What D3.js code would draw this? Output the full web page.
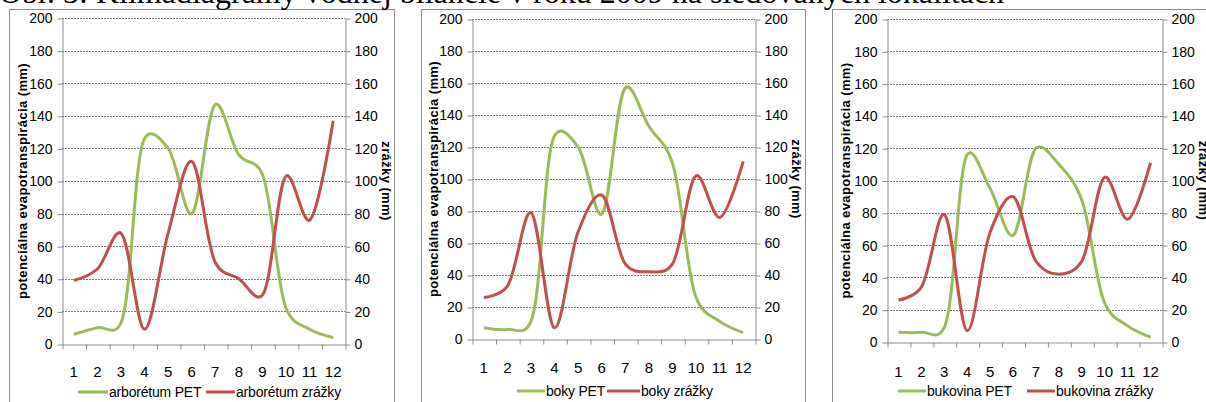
<!DOCTYPE html>
<html>
<head>
<meta charset="utf-8">
<script src="https://cdn.jsdelivr.net/npm/d3@7"></script>
<style>
  body { margin: 0; background: #fff; }
  svg { display: block; }
</style>
</head>
<body>
<div id="chart"></div>
<script>
// data (mm per month, 2009)
var months = [1, 2, 3, 4, 5, 6, 7, 8, 9, 10, 11, 12];
var yTicks = [0, 20, 40, 60, 80, 100, 120, 140, 160, 180, 200];

var arboretumPet     = [6, 10, 13, 126, 120, 80, 147, 116, 104, 22, 9, 4];
var arboretumZrazky  = [39, 46, 68, 9, 68, 112, 50, 40, 30, 103, 76, 137];
var bokyPet          = [7, 6, 11, 127, 120, 78, 157, 133, 110, 26, 11, 4];
var bokyZrazky       = [26, 33, 79, 7, 67, 90, 47, 42, 47, 102, 76, 111];
var bukovinaPet      = [6, 6, 9, 116, 95, 66, 120, 110, 88, 24, 10, 3];
var bukovinaZrazky   = [26, 34, 79, 7, 68, 90, 50, 42, 50, 102, 76, 111];

var title = 'Obr. 3: Klimadiagramy vodnej bilancie v roku 2009 na sledovaných lokalitách';
var leftLabel = 'potenciálna evapotranspirácia (mm)';
var rightLabel = 'zrážky (mm)';

var colors = { pet: '#9bbb59', zrazky: '#c0504d' };

// one entry per small chart; box = frame, plot = inner plot area
var panels = [
    {
        names: ['arborétum PET', 'arborétum zrážky'],
        pet: arboretumPet, zrazky: arboretumZrazky,
        box: { x: 9.5, y: 9.5, w: 385 },
        plot: { left: 62, right: 345, top: 18, bottom: 344 },
        leftLabelX: 22, rightLabelX: 387, xLabelY: 377, legendY: 392,
        legend: [78, 108, 206, 235]
    },
    {
        names: ['boky PET', 'boky zrážky'],
        pet: bokyPet, zrazky: bokyZrazky,
        box: { x: 421.5, y: 9.5, w: 384 },
        plot: { left: 472, right: 755, top: 19, bottom: 339 },
        leftLabelX: 433, rightLabelX: 797, xLabelY: 373, legendY: 391,
        legend: [517, 545, 607, 640]
    },
    {
        names: ['bukovina PET', 'bukovina zrážky'],
        pet: bukovinaPet, zrazky: bukovinaZrazky,
        box: { x: 832.5, y: 9.5, w: 400 },
        plot: { left: 887, right: 1162, top: 19, bottom: 342 },
        leftLabelX: 845, rightLabelX: 1204, xLabelY: 377, legendY: 391,
        legend: [898, 926, 1027, 1055]
    }
];

var width = 1206, height = 402;
var tickFont = '"Liberation Sans Narrow", "Liberation Sans", Arial, sans-serif';
var labelFont = '"Liberation Sans", Arial, sans-serif';

var svg = d3.select('#chart').append('svg')
    .attr('width', width)
    .attr('height', height);

svg.append('rect').attr('width', width).attr('height', height).attr('fill', '#fff');

panels.forEach(function(p) { drawPanel(svg, p); });

// caption, mostly cut off by the top edge
svg.append('text')
    .attr('x', -1)
    .attr('y', 3)
    .attr('font-family', '"Liberation Serif", "Times New Roman", serif')
    .attr('font-size', 32)
    .attr('fill', '#000')
    .text(title);

function drawPanel(svg, p) {
    var g = svg.append('g');
    var pl = p.plot;

    g.append('rect')
        .attr('x', p.box.x).attr('y', p.box.y)
        .attr('width', p.box.w).attr('height', height)
        .attr('fill', '#fff')
        .attr('stroke', '#8c8c8c')
        .attr('stroke-width', 1);

    var x = d3.scaleBand().domain(months).range([pl.left, pl.right]);
    var xEdge = d3.scaleLinear().domain([0, months.length]).range([pl.left, pl.right]);
    var y = d3.scaleLinear().domain([0, 200]).range([pl.bottom, pl.top]);

    // grid
    g.append('g').selectAll('line')
        .data(yTicks.filter(function(d) { return d > 0; }))
        .enter().append('line')
        .attr('x1', pl.left).attr('x2', pl.right)
        .attr('y1', function(d) { return Math.round(y(d)) + 0.5; })
        .attr('y2', function(d) { return Math.round(y(d)) + 0.5; })
        .attr('stroke', '#7a7a7a')
        .attr('stroke-width', 1)
        .attr('stroke-dasharray', '2,1');

    // left axis
    var leftAxis = g.append('g')
        .attr('transform', 'translate(' + (pl.left + 0.5) + ',0.5)')
        .call(d3.axisLeft(y).tickValues(yTicks).tickSize(5).tickSizeOuter(0).tickPadding(5));
    // right axis
    var rightAxis = g.append('g')
        .attr('transform', 'translate(' + (pl.right + 0.5) + ',0.5)')
        .call(d3.axisRight(y).tickValues(yTicks).tickSize(5).tickSizeOuter(0).tickPadding(4));

    [leftAxis, rightAxis].forEach(function(ax) {
        ax.select('.domain').attr('stroke', '#8c8c8c');
        ax.selectAll('.tick line').attr('stroke', '#8c8c8c');
        ax.selectAll('.tick text')
            .attr('font-family', tickFont)
            .attr('font-size', 14)
            .attr('fill', '#000');
    });

    // bottom axis: ticks between months, labels in the middle
    var bottomAxis = g.append('g')
        .attr('transform', 'translate(0,' + (pl.bottom + 0.5) + ')')
        .call(d3.axisBottom(xEdge).tickValues(d3.range(months.length + 1))
            .tickSize(5).tickSizeOuter(0).tickFormat(''));
    bottomAxis.select('.domain').attr('stroke', '#8c8c8c');
    bottomAxis.selectAll('.tick line').attr('stroke', '#8c8c8c');
    bottomAxis.selectAll('.tick line').attr('transform', 'translate(0.5,0)');

    g.append('g').selectAll('text')
        .data(months)
        .enter().append('text')
        .attr('x', function(d) { return x(d) + x.bandwidth() / 2; })
        .attr('y', p.xLabelY)
        .attr('text-anchor', 'middle')
        .attr('font-family', tickFont)
        .attr('font-size', 15)
        .text(function(d) { return d; });

    // axis titles
    g.append('text')
        .attr('transform', 'translate(' + p.leftLabelX + ',' + ((pl.top + pl.bottom) / 2) + ') rotate(-90)')
        .attr('text-anchor', 'middle')
        .attr('dy', '0.35em')
        .attr('font-family', labelFont)
        .attr('font-size', 13)
        .attr('font-weight', 'bold')
        .attr('letter-spacing', 0.4)
        .text(leftLabel);
    g.append('text')
        .attr('transform', 'translate(' + p.rightLabelX + ',' + ((pl.top + pl.bottom) / 2) + ') rotate(90)')
        .attr('text-anchor', 'middle')
        .attr('dy', '0.35em')
        .attr('font-family', labelFont)
        .attr('font-size', 13)
        .attr('font-weight', 'bold')
        .attr('letter-spacing', 0.4)
        .text(rightLabel);

    // smoothed lines, like Excel
    var line = d3.line()
        .x(function(d, i) { return x(months[i]) + x.bandwidth() / 2; })
        .y(function(d) { return y(d); })
        .curve(d3.curveCatmullRom.alpha(0.25));

    g.append('path').datum(p.pet)
        .attr('d', line)
        .attr('fill', 'none')
        .attr('stroke', colors.pet)
        .attr('stroke-width', 3)
        .attr('stroke-linejoin', 'round');
    g.append('path').datum(p.zrazky)
        .attr('d', line)
        .attr('fill', 'none')
        .attr('stroke', colors.zrazky)
        .attr('stroke-width', 3)
        .attr('stroke-linejoin', 'round');

    // legend
    var lg = p.legend;
    [[colors.pet, p.names[0], lg[0], lg[1]], [colors.zrazky, p.names[1], lg[2], lg[3]]].forEach(function(item) {
        g.append('line')
            .attr('x1', item[2]).attr('x2', item[3])
            .attr('y1', p.legendY).attr('y2', p.legendY)
            .attr('stroke', item[0])
            .attr('stroke-width', 3);
        g.append('text')
            .attr('x', item[3] + 1)
            .attr('y', p.legendY)
            .attr('dy', '0.35em')
            .attr('font-family', labelFont)
            .attr('font-size', 14)
            .attr('letter-spacing', -0.2)
            .text(item[1]);
    });
}
</script>
</body>
</html>
